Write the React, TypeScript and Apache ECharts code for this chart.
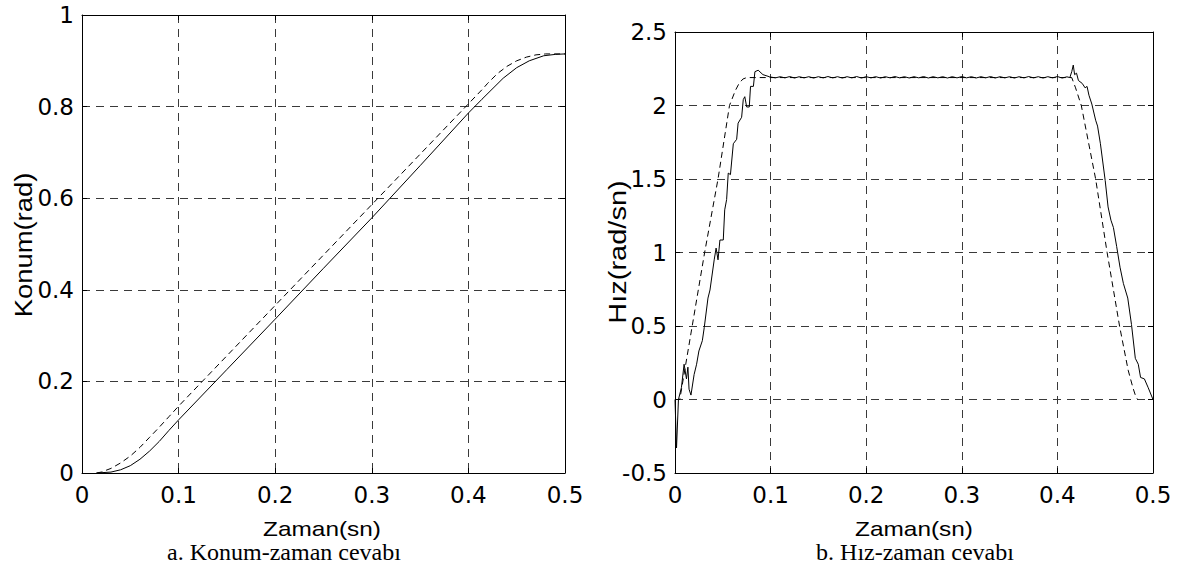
import React, { useEffect, useRef } from "react";
import * as echarts from "echarts";

// ---- Data ----
const xTicks = [0, 0.1, 0.2, 0.3, 0.4, 0.5];
const posTicks = [0, 0.2, 0.4, 0.6, 0.8, 1];
const velTicks = [-0.5, 0, 0.5, 1, 1.5, 2, 2.5];

// Position (rad) vs time (s): reference (dashed) and actual (solid)
const posRef: [number, number][] = [
  [0.015, 0.0], [0.02, 0.002], [0.03, 0.01], [0.04, 0.022], [0.05, 0.037],
  [0.06, 0.056], [0.07, 0.078], [0.08, 0.1], [0.09, 0.123], [0.1, 0.146],
  [0.2, 0.366], [0.3, 0.586], [0.4, 0.806], [0.415, 0.839], [0.42, 0.851],
  [0.43, 0.872], [0.44, 0.888], [0.45, 0.9], [0.46, 0.908], [0.47, 0.913],
  [0.48, 0.915], [0.5, 0.915],
];
const posAct: [number, number][] = [
  [0.015, 0.0], [0.03, 0.002], [0.04, 0.007], [0.05, 0.016], [0.06, 0.03],
  [0.07, 0.048], [0.08, 0.069], [0.09, 0.093], [0.1, 0.116], [0.15, 0.226],
  [0.2, 0.336], [0.25, 0.447], [0.3, 0.557], [0.35, 0.671], [0.4, 0.786],
  [0.414, 0.816], [0.436, 0.862], [0.45, 0.885], [0.463, 0.9], [0.478, 0.911],
  [0.49, 0.914], [0.5, 0.915],
];

// Speed (rad/s) vs time (s): reference (dashed) and actual (solid)
const velRef: [number, number][] = [
  [0, 0], [0.005, 0.0], [0.018, 0.5], [0.031, 1.0], [0.045, 1.5], [0.057, 2.0],
  [0.063, 2.1], [0.067, 2.15], [0.071, 2.18], [0.075, 2.19], [0.415, 2.19],
  [0.419, 2.12], [0.425, 2.0], [0.44, 1.5], [0.452, 1.0], [0.465, 0.5],
  [0.474, 0.2], [0.479, 0.08], [0.482, 0.02], [0.484, 0.0],
];
const velAct: [number, number][] = [
  [0, 0], [0.0016, -0.33], [0.0036, 0.0], [0.0067, 0.08], [0.0095, 0.24],
  [0.012, 0.14], [0.0135, 0.22], [0.0147, 0.07], [0.0167, 0.03], [0.02, 0.17],
  [0.0226, 0.24], [0.025, 0.33], [0.0286, 0.4], [0.0306, 0.49], [0.0345, 0.69],
  [0.0366, 0.745], [0.041, 0.95], [0.043, 1.03], [0.045, 0.95], [0.047, 1.085],
  [0.0505, 1.085], [0.052, 1.29], [0.054, 1.36], [0.0557, 1.54], [0.058, 1.53],
  [0.061, 1.74], [0.0645, 1.77], [0.066, 1.88], [0.0697, 1.92], [0.0714, 2.04],
  [0.073, 2.06], [0.075, 1.99], [0.0777, 1.99], [0.079, 2.13], [0.082, 2.13],
  [0.0836, 2.23], [0.087, 2.24], [0.092, 2.21], [0.099, 2.195],
  [0.105, 2.188], [0.11, 2.196], [0.115, 2.188], [0.12, 2.197], [0.125, 2.187],
  [0.13, 2.196], [0.135, 2.188], [0.14, 2.196], [0.145, 2.187], [0.15, 2.196],
  [0.155, 2.188], [0.16, 2.197], [0.165, 2.188], [0.17, 2.196], [0.175, 2.187],
  [0.18, 2.196], [0.185, 2.188], [0.19, 2.197], [0.195, 2.187], [0.2, 2.196],
  [0.205, 2.188], [0.21, 2.196], [0.215, 2.187], [0.22, 2.196], [0.225, 2.188],
  [0.23, 2.197], [0.235, 2.188], [0.24, 2.196], [0.245, 2.187], [0.25, 2.196],
  [0.255, 2.188], [0.26, 2.197], [0.265, 2.187], [0.27, 2.196], [0.275, 2.188],
  [0.28, 2.196], [0.285, 2.187], [0.29, 2.196], [0.295, 2.188], [0.3, 2.197],
  [0.305, 2.188], [0.31, 2.196], [0.315, 2.187], [0.32, 2.196], [0.325, 2.188],
  [0.33, 2.197], [0.335, 2.187], [0.34, 2.196], [0.345, 2.188], [0.35, 2.196],
  [0.355, 2.187], [0.36, 2.196], [0.365, 2.188], [0.37, 2.197], [0.375, 2.188],
  [0.38, 2.196], [0.385, 2.187], [0.39, 2.196], [0.395, 2.188], [0.4, 2.197],
  [0.405, 2.187], [0.41, 2.195], [0.413, 2.19],
  [0.415, 2.23], [0.4166, 2.275], [0.418, 2.21], [0.42, 2.22], [0.422, 2.17],
  [0.426, 2.15], [0.429, 2.12], [0.431, 2.13], [0.433, 2.07], [0.436, 2.01],
  [0.44, 1.9], [0.442, 1.86], [0.445, 1.74], [0.45, 1.49], [0.453, 1.31],
  [0.456, 1.22], [0.4586, 1.17], [0.462, 1.04], [0.4655, 0.9], [0.469, 0.79],
  [0.4736, 0.69], [0.4775, 0.51], [0.4815, 0.28], [0.4846, 0.24], [0.487, 0.15],
  [0.491, 0.14], [0.495, 0.08], [0.5, 0.0],
];

const xTitle = "Zaman(sn)";
const posTitle = "Konum(rad)";
const velTitle = "Hız(rad/sn)";
const captionA = "a. Konum-zaman cevabı";
const captionB = "b. Hız-zaman cevabı";

// ---- Styles ----
const tickFont = { fontFamily: "DejaVu Sans", fontSize: 23, color: "#000" };
const gridDash = { color: "#3a3a3a", width: 1, type: [8, 6] as number[] };
const black = { color: "#000", width: 1 };

const step = (ticks: number[]) => ticks[1] - ticks[0];

function mainX(gridIndex: number) {
  return {
    type: "value",
    gridIndex,
    position: "bottom",
    min: xTicks[0],
    max: xTicks[xTicks.length - 1],
    interval: step(xTicks),
    axisLine: { show: true, onZero: false, lineStyle: black },
    axisTick: { show: true, inside: true, length: 5, lineStyle: black },
    axisLabel: { ...tickFont, margin: 10, showMinLabel: true, showMaxLabel: true, hideOverlap: false },
    splitLine: { show: true, lineStyle: gridDash },
  };
}
function topX(gridIndex: number) {
  return {
    type: "value",
    gridIndex,
    position: "top",
    min: xTicks[0],
    max: xTicks[xTicks.length - 1],
    interval: step(xTicks),
    axisLine: { show: true, onZero: false, lineStyle: black },
    axisTick: { show: true, inside: true, length: 5, lineStyle: black },
    axisLabel: { show: false },
    splitLine: { show: false },
  };
}
function mainY(gridIndex: number, ticks: number[]) {
  return {
    type: "value",
    gridIndex,
    position: "left",
    min: ticks[0],
    max: ticks[ticks.length - 1],
    interval: step(ticks),
    axisLine: { show: true, onZero: false, lineStyle: black },
    axisTick: { show: true, inside: true, length: 5, lineStyle: black },
    axisLabel: { ...tickFont, margin: 8, showMinLabel: true, showMaxLabel: true, hideOverlap: false },
    splitLine: { show: true, lineStyle: gridDash },
  };
}
function rightY(gridIndex: number, ticks: number[]) {
  return {
    type: "value",
    gridIndex,
    position: "right",
    min: ticks[0],
    max: ticks[ticks.length - 1],
    interval: step(ticks),
    axisLine: { show: true, onZero: false, lineStyle: black },
    axisTick: { show: true, inside: true, length: 5, lineStyle: black },
    axisLabel: { show: false },
    splitLine: { show: false },
  };
}

function line(data: [number, number][], xi: number, yi: number, dashed: boolean) {
  return {
    type: "line",
    xAxisIndex: xi,
    yAxisIndex: yi,
    data,
    symbol: "none",
    showSymbol: false,
    silent: true,
    z: 5,
    lineStyle: { color: "#000", width: 1, type: dashed ? [6, 4] : "solid" },
  };
}

function text(
  t: string,
  x: number,
  y: number,
  family: string,
  size: number,
  opts: { rotation?: number; scaleX?: number; scaleY?: number } = {}
) {
  return {
    type: "text",
    x,
    y,
    rotation: opts.rotation ?? 0,
    scaleX: opts.scaleX ?? 1,
    scaleY: opts.scaleY ?? 1,
    silent: true,
    style: {
      text: t,
      fontFamily: family,
      fontSize: size,
      fill: "#000",
      textAlign: "center",
      textVerticalAlign: "middle",
      align: "center",
      verticalAlign: "middle",
    },
  };
}

export default function App() {
  const ref = useRef<HTMLDivElement>(null);
  useEffect(() => {
    if (!ref.current) return;
    const chart = echarts.init(ref.current, null, { renderer: "svg" });
    chart.setOption({
      animation: false,
      backgroundColor: "#fff",
      grid: [
        { left: 82, top: 15, width: 483, height: 458, containLabel: false },
        { left: 675, top: 32, width: 478, height: 441, containLabel: false },
      ],
      xAxis: [mainX(0), topX(0), mainX(1), topX(1)],
      yAxis: [mainY(0, posTicks), rightY(0, posTicks), mainY(1, velTicks), rightY(1, velTicks)],
      series: [
        line(posRef, 0, 0, true),
        line(posAct, 0, 0, false),
        line(velRef, 2, 2, true),
        line(velAct, 2, 2, false),
      ],
      graphic: [
        text(xTitle, 322, 529, "Liberation Sans", 20, { scaleX: 1.22 }),
        text(xTitle, 914, 529, "Liberation Sans", 20, { scaleX: 1.22 }),
        text(posTitle, 24, 245, "Liberation Sans", 20, { rotation: Math.PI / 2, scaleX: 1.37, scaleY: 1.22 }),
        text(velTitle, 618, 252, "Liberation Sans", 20, { rotation: Math.PI / 2, scaleX: 1.45, scaleY: 1.22 }),
        text(captionA, 284, 552, "Liberation Serif", 24, { scaleX: 1.0 }),
        text(captionB, 915, 552, "Liberation Serif", 24, { scaleX: 1.0 }),
      ],
    });
    return () => chart.dispose();
  }, []);
  return (
    <div
      ref={ref}
      style={{ position: "absolute", left: 0, top: 0, width: 1180, height: 579, background: "#fff" }}
    />
  );
}
